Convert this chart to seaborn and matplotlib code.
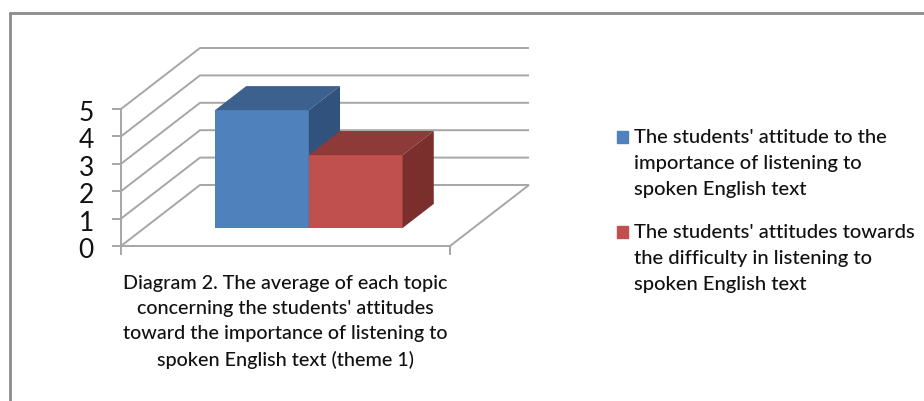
import matplotlib
matplotlib.use("Agg")
import matplotlib.pyplot as plt
import pandas as pd
import seaborn as sns
from matplotlib.lines import Line2D
from matplotlib.patches import Patch
from matplotlib.transforms import Affine2D

# Values
series = ["The students' attitude to the\nimportance of listening to\nspoken English text",
          "The students' attitudes towards\nthe difficulty in listening to\nspoken English text"]
averages = [4.3, 2.66]
topic = ["theme 1", "theme 1"]
y_ticks = [0, 1, 2, 3, 4, 5]
caption = ("Diagram 2. The average of each topic\n"
           "concerning the students' attitudes\n"
           "toward the importance of listening to\n"
           "spoken English text (theme 1)")

front_colors = ["#4f81bd", "#c0504d"]
top_colors = ["#3c618f", "#8e3a38"]
side_colors = ["#31527c", "#7a2f2d"]
grid_color = "#a6a6a6"
text_color = "#111111"

W, H = 924, 401
# front plane of the 3D box in pixels
PX_LEFT, PX_RIGHT, PX_BOTTOM, PX_TOP = 121, 450, 246, 109
DEPTH_PX_X, DEPTH_PX_Y = 79, 61
X_MIN, X_MAX = -0.5, 0.5
LINE_PT = 26.5 * 0.72  # legend line pitch, 26.5 px

sns.set_theme(style="white")
plt.rcParams["font.family"] = ["Lato", "DejaVu Sans"]


# oblique projection: d=0 is the front plane, d=1 the back wall
def project(x, y, d):
    unit_x = (X_MAX - X_MIN) / (PX_RIGHT - PX_LEFT)
    unit_y = y_ticks[-1] / (PX_BOTTOM - PX_TOP)
    return x + d * DEPTH_PX_X * unit_x, y + d * DEPTH_PX_Y * unit_y


def draw_box_walls(ax):
    style = dict(color=grid_color, lw=1.4, clip_on=False, zorder=1, solid_capstyle="butt")
    for tick in y_ticks:
        x0, y0 = project(X_MIN, tick, 0)
        x1, y1 = project(X_MIN, tick, 1)
        x2, y2 = project(X_MAX, tick, 1)
        ax.plot([x0, x1, x2], [y0, y1, y2], **style)
    # floor edge on the right
    x0, y0 = project(X_MAX, 0, 0)
    x1, y1 = project(X_MAX, 0, 1)
    ax.plot([x0, x1], [y0, y1], **style)


def draw_bar_3d(ax, patch, i, d0=0.295, d1=0.69):
    x0 = patch.get_x()
    x1 = x0 + patch.get_width()
    h = patch.get_height()
    # front face is moved back to its depth on the floor
    fx, fy = project(x0, 0, d0)
    patch.set_x(fx)
    patch.set_y(fy)
    patch.set_linewidth(0)
    patch.set_clip_on(False)
    patch.set_zorder(2 + i)

    top = [project(x0, h, d0), project(x1, h, d0), project(x1, h, d1), project(x0, h, d1)]
    side = [project(x1, 0, d0), project(x1, h, d0), project(x1, h, d1), project(x1, 0, d1)]
    ax.fill(*zip(*top), color=top_colors[i], lw=0, clip_on=False, zorder=2 + i)
    ax.fill(*zip(*side), color=side_colors[i], lw=0, clip_on=False, zorder=2 + i)


df = pd.DataFrame({"topic": topic, "series": series, "average": averages})

fig = plt.figure(figsize=(W / 100, H / 100), dpi=100)
ax = fig.add_axes([PX_LEFT / W, 1 - PX_BOTTOM / H, (PX_RIGHT - PX_LEFT) / W, (PX_BOTTOM - PX_TOP) / H])

sns.barplot(data=df, x="topic", y="average", hue="series", hue_order=series, palette=front_colors,
            width=0.57, gap=0, saturation=1, legend=False, ax=ax)

draw_box_walls(ax)
for i, patch in enumerate(list(ax.patches)):
    draw_bar_3d(ax, patch, i)

ax.set_xlim(X_MIN, X_MAX)
ax.set_ylim(y_ticks[0], y_ticks[-1])
ax.set_xticks([X_MIN, X_MAX], ["", ""])
ax.set_yticks(y_ticks)
ax.patch.set_alpha(0)
ax.tick_params(axis="both", length=6.5, width=1.4, color=grid_color, bottom=True, left=True)
ax.tick_params(axis="y", labelsize=19, labelcolor=text_color, pad=13)
for label in ax.get_yticklabels():
    label.set_transform(label.get_transform() + Affine2D().translate(0, -2))
for name in ["top", "right"]:
    ax.spines[name].set_visible(False)
for name in ["left", "bottom"]:
    ax.spines[name].set_color(grid_color)
    ax.spines[name].set_linewidth(1.4)

ax.set_ylabel("")
ax.set_xlabel(caption, fontsize=14.2, color=text_color, labelpad=11, linespacing=1.58, fontweight="medium")

handles = [Patch(color=c) for c in front_colors]
leg = ax.legend(handles, series, loc="upper left", bbox_to_anchor=(617 / W, 1 - 129 / H),
                bbox_transform=fig.transFigure, frameon=False, handlelength=0.55,
                handleheight=0.55, handletextpad=0.3, labelspacing=1.27, borderaxespad=0, borderpad=0,
                labelcolor=text_color, prop={"size": 14.5, "weight": "medium"})
for t in leg.get_texts():
    t.set_linespacing(1.65)
# swatches sit on the first line of each entry
for h in leg.legend_handles:
    h.set_y(h.get_y() + LINE_PT)

# chart frame, cut off by the screenshot on the right and at the bottom
frame = dict(color="#8c8c8c", lw=2, transform=fig.transFigure)
fig.add_artist(Line2D([10 / W, 10 / W], [0, 1 - 13 / H], **frame))
fig.add_artist(Line2D([10 / W, 1], [1 - 13 / H, 1 - 13 / H], **frame))

fig.savefig("out.png", dpi=100)
